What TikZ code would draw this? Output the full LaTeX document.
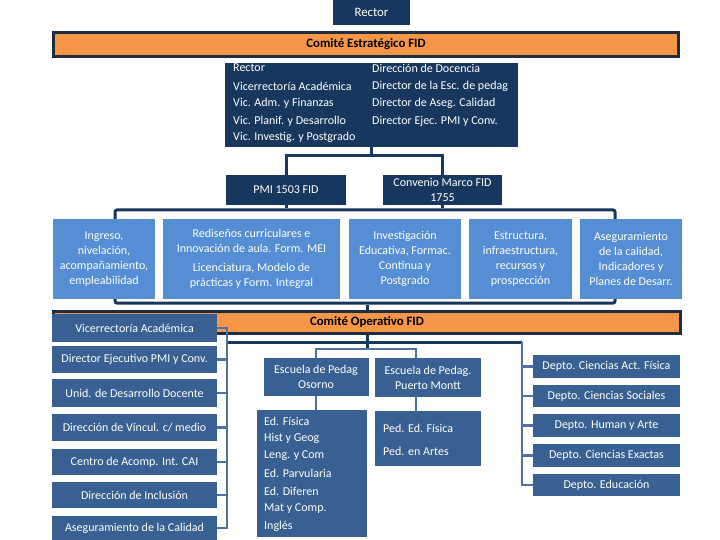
\documentclass[tikz,border=0pt]{standalone}
\usepackage{fontspec}
\setmainfont{Carlito}
\usetikzlibrary{backgrounds}
\definecolor{navy}{RGB}{23,55,94}
\definecolor{barline}{RGB}{31,45,66}
\definecolor{orangeF}{RGB}{247,150,70}
\definecolor{lightb}{RGB}{85,142,213}
\definecolor{medb}{RGB}{56,96,146}
\definecolor{connb}{RGB}{79,113,168}
\tikzset{
  navybox/.style={fill=navy, text=white, align=center},
  lbox/.style={fill=lightb, text=white, align=center, minimum height=79pt},
  mbox/.style={fill=medb, text=white, align=center},
  barbox/.style={draw=barline, line width=3pt, fill=orangeF, text=black,
     font=\bfseries\fontsize{12.8}{14}\selectfont},
  grpbox/.style={draw=navy, line width=3pt, rounded corners=2pt},
  dconn/.style={draw=navy, line width=3pt},
  lconn/.style={draw=connb, line width=2.5pt},
  mtext/.style={text=white, anchor=west},
  lbar/.style={mbox, minimum width=165pt},
  dbar/.style={mbox, minimum width=147pt},
}
\begin{document}
\begin{tikzpicture}[x=1pt,y=-1pt, every node/.style={inner sep=0pt, font=\fontsize{12}{15.2}\selectfont}]
\useasboundingbox (0,0) rectangle (720,540);
\fill[white] (0,0) rectangle (720,540);

% top
\node[navybox, minimum width=77pt, minimum height=25pt, font=\fontsize{12.8}{15}\selectfont] (rector) at (371.5,12.5) {Rector};
\node[barbox, minimum width=625pt, minimum height=24pt] (estr) at (366,44.5) {Comité Estratégico FID};
\node[navybox, minimum width=293pt, minimum height=84pt] (memb) at (371.5,105) {};
\node[mtext] (ma1) at (233,68) {Rector};
\node[mtext] (ma2) at (233,86) {Vicerrectoría Académica};
\node[mtext] (ma3) at (233,103) {Vic. Adm. y Finanzas};
\node[mtext] (ma4) at (233,121) {Vic. Planif. y Desarrollo};
\node[mtext] (ma5) at (233,137) {Vic. Investig. y Postgrado};
\node[mtext] (mb1) at (372,68) {Dirección de Docencia};
\node[mtext] (mb2) at (372,86) {Director de la Esc. de pedag};
\node[mtext] (mb3) at (372,103) {Director de Aseg. Calidad};
\node[mtext] (mb4) at (372,121) {Director Ejec. PMI y Conv.};
\begin{scope}[on background layer]
  \draw[dconn] (rector.south) -- (memb.north);
\end{scope}

\node[navybox, minimum width=120pt, minimum height=30pt] (pmi) at (286,190) {PMI 1503 FID};
\node[navybox, minimum width=119pt, minimum height=30pt] (conv) at (442.5,190) {Convenio Marco FID\\1755};
\draw[dconn] (memb.south) -- ++(0,8) coordinate (tj);
\draw[dconn] (pmi.north) |- (tj) -| (conv.north);

% programme group
\node[grpbox, minimum width=500pt, minimum height=93pt] (grp) at (365,256.5) {};
\draw[dconn] (pmi.south) -- (pmi.south |- grp.north);
\draw[dconn] (conv.south) -- (conv.south |- grp.north);
\node[lbox, minimum width=102pt] (ingreso) at (104,259) {Ingreso,\\nivelación,\\acompañamiento,\\empleabilidad};
\node[lbox, minimum width=177pt] (redis) at (251.5,259) {Rediseños curriculares e\\Innovación de aula. Form. MEI\\[4pt]Licenciatura, Modelo de\\prácticas y Form. Integral};
\node[lbox, minimum width=112pt] (invest) at (405,259) {Investigación\\Educativa, Formac.\\Continua y\\Postgrado};
\node[lbox, minimum width=103pt] (estruct) at (520.5,259) {Estructura,\\infraestructura,\\recursos y\\prospección};
\node[lbox, minimum width=102pt] (asegc) at (631,259) {Aseguramiento\\de la calidad,\\Indicadores y\\Planes de Desarr.};

% operative committee
\node[barbox, minimum width=627pt, minimum height=22pt] (opbar) at (367,322.5) {Comité Operativo FID};
\draw[dconn] (opbar.north) -- (opbar.north |- grp.south);

% left column
\node[lbar, minimum height=28pt] (l1) at (134.5,328) {Vicerrectoría Académica};
\node[lbar, minimum height=27pt] (l2) at (134.5,359.5) {Director Ejecutivo PMI y Conv.};
\node[lbar, minimum height=28pt] (l3) at (134.5,393) {Unid. de Desarrollo Docente};
\node[lbar, minimum height=27pt] (l4) at (134.5,427.5) {Dirección de Víncul. c/ medio};
\node[lbar, minimum height=26pt] (l5) at (134.5,462) {Centro de Acomp. Int. CAI};
\node[lbar, minimum height=26pt] (l6) at (134.5,495) {Dirección de Inclusión};
\node[lbar, minimum height=24pt] (l7) at (134.5,528) {Aseguramiento de la Calidad};

\coordinate (hl) at (227,342);
\coordinate (hr) at (522,342);
\coordinate (bj) at (367,349);
\draw[dconn] (hl) -- (hr);
\draw[dconn] (opbar.south) -- (bj);

\draw[lconn] (l1.east) -- (l1.east -| hl) -- (l7.east -| hl) -- (l7.east);
\foreach \n in {l2,l3,l4,l5,l6} \draw[lconn] (\n.east) -- (\n.east -| hl);

% schools
\node[mbox, minimum width=105pt, minimum height=38pt] (esc1) at (316,377) {Escuela de Pedag\\Osorno};
\node[mbox, minimum width=106pt, minimum height=39pt] (esc2) at (428,377.5) {Escuela de Pedag.\\Puerto Montt};
\draw[lconn] (esc1.north) |- (bj) -| ([xshift=-12pt]esc2.north);

\node[mbox, minimum width=110pt, minimum height=127pt] (osl) at (312,473.5) {};
\draw[lconn] (esc1.south) -- (esc1.south |- osl.north);
\node[mtext] (o1) at (264,421) {Ed. Física};
\node[mtext] (o2) at (264,438.5) {Hist y Geog};
\node[mtext] (o3) at (264,456) {Leng. y Com};
\node[mtext] (o4) at (264,473.5) {Ed. Parvularia};
\node[mtext] (o5) at (264,491) {Ed. Diferen};
\node[mtext] (o6) at (264,508.5) {Mat y Comp.};
\node[mtext] (o7) at (264,526) {Inglés};

\node[mbox, minimum width=106pt, minimum height=55pt] (pml) at (428,438.5) {};
\draw[lconn] ([xshift=-12pt]esc2.south) -- ([xshift=-12pt]esc2.south |- pml.north);
\node[mtext] (p1) at (383,428) {Ped. Ed. Física};
\node[mtext] (p2) at (383,451) {Ped. en Artes};

% departments
\node[dbar, minimum height=23pt] (d1) at (606.5,366.5) {Depto. Ciencias Act. Física};
\node[dbar, minimum height=22pt] (d2) at (606.5,396) {Depto. Ciencias Sociales};
\node[dbar, minimum height=23pt] (d3) at (606.5,425.5) {Depto. Human y Arte};
\node[dbar, minimum height=23pt] (d4) at (606.5,455.5) {Depto. Ciencias Exactas};
\node[dbar, minimum height=22pt] (d5) at (606.5,485) {Depto. Educación};
\draw[lconn] (hr) |- (d5.west);
\foreach \n in {d1,d2,d3,d4} \draw[lconn] (\n.west) -- (\n.west -| hr);
\end{tikzpicture}
\end{document}
